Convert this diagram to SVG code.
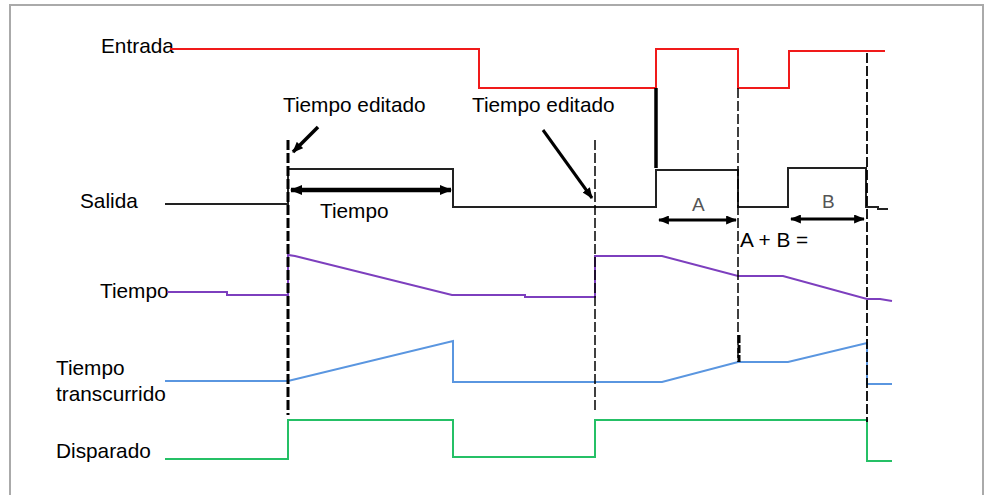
<svg xmlns="http://www.w3.org/2000/svg" width="987" height="495" viewBox="0 0 987 495">
<defs>
<marker id="ah" viewBox="0 0 12 10" refX="11" refY="5" markerWidth="12" markerHeight="10" markerUnits="userSpaceOnUse" orient="auto-start-reverse">
<path d="M0,0 L12,5 L0,10 Z" fill="#000"/>
</marker>
<marker id="ahs" viewBox="0 0 12 10" refX="11" refY="5" markerWidth="11" markerHeight="9" markerUnits="userSpaceOnUse" orient="auto-start-reverse">
<path d="M0,0 L12,5 L0,10 Z" fill="#000"/>
</marker>
</defs>
<style>
text{font-family:"Liberation Sans",Arial,sans-serif;font-size:20.8px;fill:#000}
.lbl{font-size:19px;fill:#555}
.sig{fill:none;stroke-width:2;stroke-linejoin:miter}
.red{stroke:#f01a1a}
.blk{stroke:#222}
.pur{stroke:#7d3fbe}
.blu{stroke:#5a96e0}
.grn{stroke:#25c066}
.dash{fill:none;stroke:#000;stroke-dasharray:10 3}
.arr{fill:none;stroke:#000}
</style>
<rect x="10" y="5" width="973" height="500" fill="#fff" stroke="#aaa" stroke-width="2"/>

<g id="labels">
<text x="101" y="53">Entrada</text>
<text x="80" y="208">Salida</text>
<text x="100" y="298">Tiempo</text>
<text x="56" y="375">Tiempo</text>
<text x="56" y="401">transcurrido</text>
<text x="56" y="458">Disparado</text>
<text x="283" y="112">Tiempo editado</text>
<text x="472" y="112">Tiempo editado</text>
<text x="320" y="218">Tiempo</text>
<text x="740" y="247">A + B =</text>
<text class="lbl" x="692" y="211">A</text>
<text class="lbl" x="822" y="208">B</text>
</g>

<g id="entrada">
<polyline class="sig red" points="170,49 479,49 479,88 656,88 656,49 738,49 738,88 789,88 789,51 885,51"/>
</g>
<g id="salida">
<polyline class="sig blk" points="165,204 288,204 288,169 453,169 453,207 656,207 656,170 738,170 738,207 788,207 788,168 866,168 866,207 878,207 878,209 888,209"/>
<line x1="656" y1="88" x2="656" y2="168" stroke="#000" stroke-width="3.5"/>
</g>
<g id="tiempo">
<polyline class="sig pur" points="167,292 227,292 227,295 288,295 288,255 295,256 452,295 525,295 525,297 595,297 595,256 662,256 738,276 783,276 867,299 880,299 892,301"/>
</g>
<g id="transcurrido">
<polyline class="sig blu" points="165,381 288,381 453,341 453,382 662,382 738,362 788,362 867,343 867,384 892,384"/>
</g>
<g id="disparado">
<polyline class="sig grn" points="165,459 288,459 288,420 453,420 453,457 595,457 595,420 867,420 867,461 892,461"/>
</g>

<g id="connectors">
<line class="dash" x1="288" y1="140" x2="288" y2="415" stroke-width="3"/>
<line class="dash" x1="595" y1="140" x2="595" y2="413" stroke-width="1.5"/>
<line class="dash" x1="738" y1="88" x2="738" y2="362" stroke-width="1.5"/>
<line x1="739" y1="335" x2="739" y2="362" stroke="#000" stroke-width="3" stroke-dasharray="8 2"/>
<line class="dash" x1="867" y1="53" x2="867" y2="422" stroke-width="1.8"/>
<line class="arr" x1="291" y1="190" x2="451" y2="190" stroke-width="4.5" marker-start="url(#ah)" marker-end="url(#ah)"/>
<line class="arr" x1="659" y1="220" x2="736" y2="220" stroke-width="3" marker-start="url(#ahs)" marker-end="url(#ahs)"/>
<line class="arr" x1="791" y1="219" x2="864" y2="219" stroke-width="3" marker-start="url(#ahs)" marker-end="url(#ahs)"/>
<line class="arr" x1="318" y1="127" x2="293" y2="152" stroke-width="3.5" marker-end="url(#ahs)"/>
<line class="arr" x1="543" y1="130" x2="592" y2="198" stroke-width="3" marker-end="url(#ahs)"/>
</g>
</svg>
